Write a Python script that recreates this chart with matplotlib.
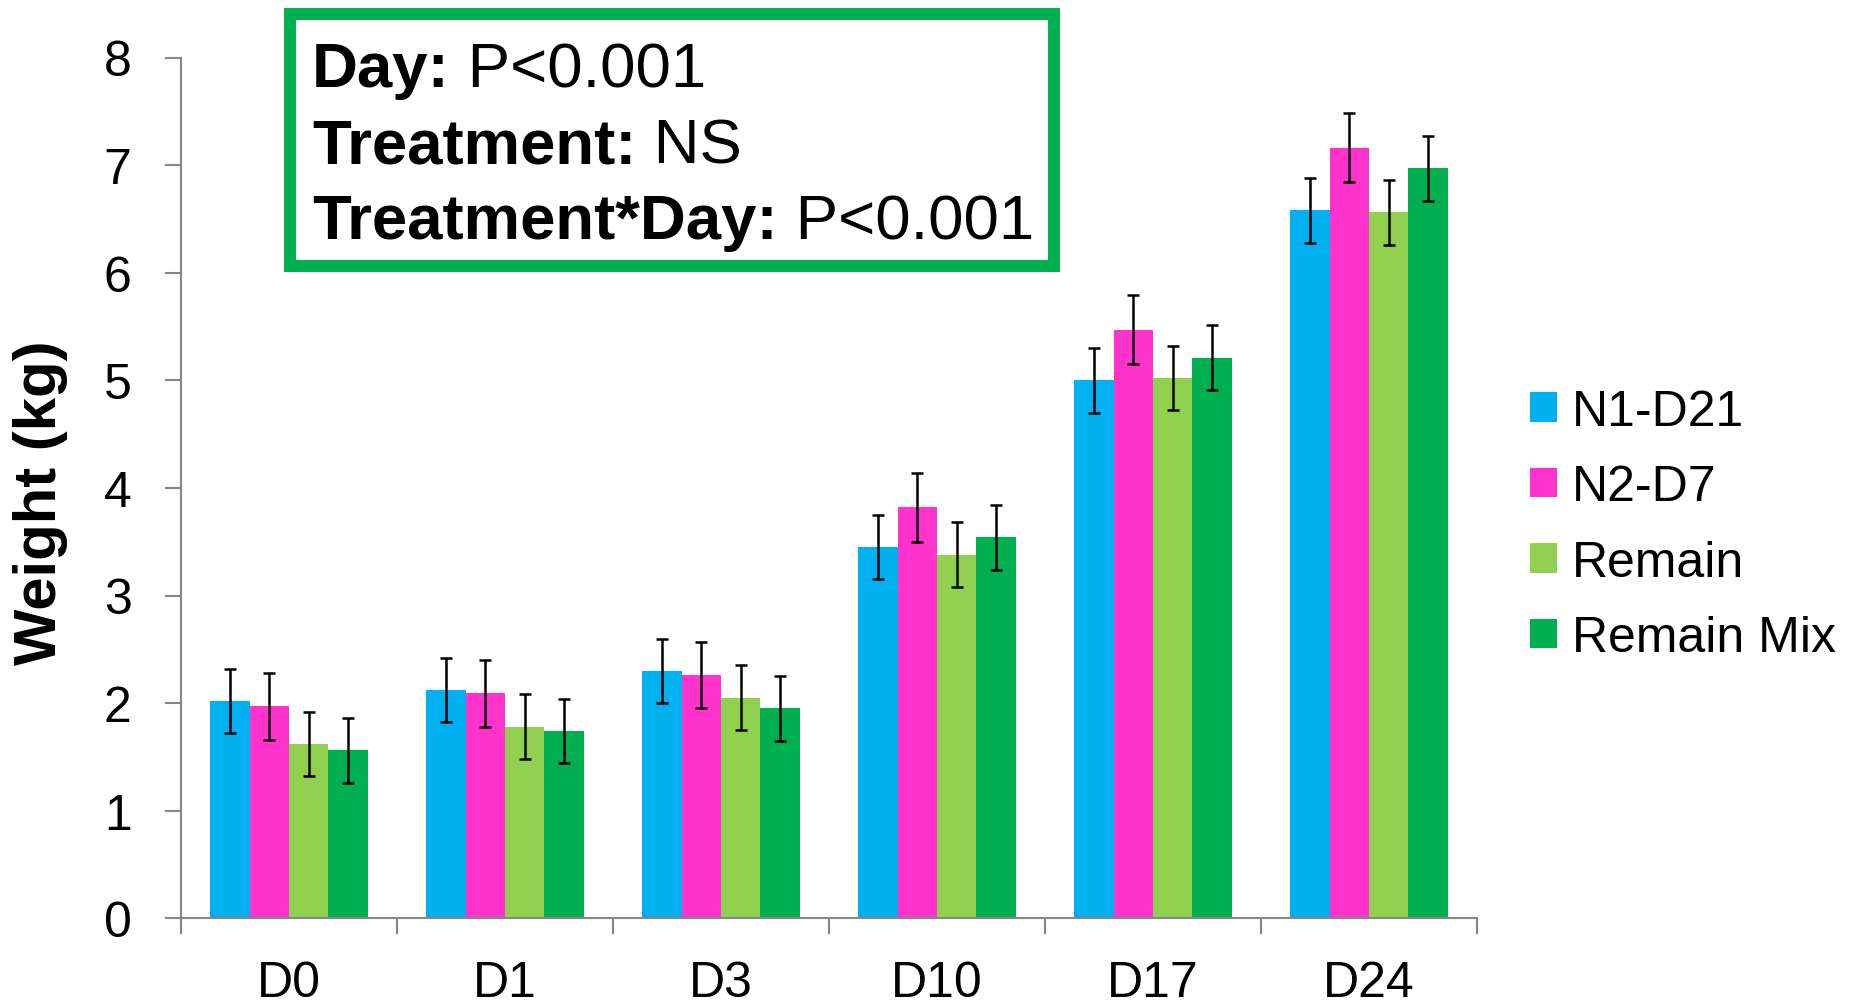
import matplotlib
matplotlib.use("Agg")
import matplotlib.pyplot as plt
from matplotlib.patches import Rectangle
import numpy as np

plt.rcParams['font.family'] = ['Liberation Sans', 'DejaVu Sans']

days = ["D0", "D1", "D3", "D10", "D17", "D24"]
series = ["N1-D21", "N2-D7", "Remain", "Remain Mix"]
colors = ["#00B0F0", "#FF33CC", "#92D050", "#00B050"]

n1_d21 = [2.02, 2.12, 2.30, 3.45, 5.00, 6.58]
n2_d7 = [1.97, 2.09, 2.26, 3.82, 5.47, 7.16]
remain = [1.62, 1.78, 2.05, 3.38, 5.02, 6.56]
remain_mix = [1.56, 1.74, 1.95, 3.54, 5.21, 6.97]

n1_d21_err = [0.30, 0.30, 0.30, 0.30, 0.30, 0.30]
n2_d7_err = [0.31, 0.31, 0.31, 0.32, 0.32, 0.32]
remain_err = [0.30, 0.30, 0.30, 0.30, 0.30, 0.30]
remain_mix_err = [0.30, 0.30, 0.30, 0.30, 0.30, 0.30]

values = [n1_d21, n2_d7, remain, remain_mix]
errors = [n1_d21_err, n2_d7_err, remain_err, remain_mix_err]

W, H = 1868, 1004
fig = plt.figure(figsize=(W / 100, H / 100), dpi=100)
ax = fig.add_axes([181 / W, (H - 919.3) / H, 1296 / W, 860.8 / H])

x = np.arange(len(days))
bw = 0.1825
for i, (vals, errs, col, name) in enumerate(zip(values, errors, colors, series)):
    ax.bar(x + (i - 1.5) * bw, vals, width=bw, color=col, label=name,
           yerr=errs, error_kw=dict(ecolor="black", elinewidth=1.8,
                                    capsize=4, capthick=1.8), zorder=2)

axis_grey = "#868686"
ax.set_xlim(-0.5, len(days) - 0.5)
ax.set_ylim(0, 8)
ax.set_yticks(range(0, 9))
ax.set_xticks(x)
ax.set_xticklabels(days)
ax.set_xticks(np.arange(-0.5, len(days)), minor=True)
ax.tick_params(axis="x", which="major", length=0, pad=30, labelsize=36)
ax.tick_params(axis="x", which="minor", length=11.5, width=1.5, color=axis_grey)
ax.tick_params(axis="y", length=11.5, width=1.5, color=axis_grey, pad=24,
               labelsize=36)
for side in ["top", "right"]:
    ax.spines[side].set_visible(False)
for side in ["left", "bottom"]:
    ax.spines[side].set_color(axis_grey)
    ax.spines[side].set_linewidth(1.5)

ax.set_ylabel("Weight (kg)", fontsize=43, fontweight="bold")
ax.yaxis.set_label_coords(-0.0875, 0.484)

leg = fig.legend(loc="center left", bbox_to_anchor=(1530 / W, 1 - 526 / H),
                 frameon=False, fontsize=36, handlelength=0.54,
                 handleheight=0.54, handletextpad=0.3, labelspacing=0.59,
                 borderpad=0, borderaxespad=0)

# statistics box
box = Rectangle((289.5 / W, 1 - 267 / H), (1054 - 289.5) / W, (267 - 15.3) / H,
                transform=fig.transFigure, fill=False, edgecolor="#00B050",
                linewidth=8.6, zorder=5)
fig.add_artist(box)

stats = [("Day:", " P<0.001"), ("Treatment:", " NS"),
         ("Treatment*Day:", " P<0.001")]
baselines = [87.3, 163.3, 239.3]
for (bold, plain), yb in zip(stats, baselines):
    t = fig.text(312 / W, 1 - yb / H, bold, fontsize=45.7, fontweight="bold",
                 va="baseline", ha="left")
    fig.canvas.draw()
    fig.text(t.get_window_extent().x1 / W, 1 - yb / H, plain, fontsize=45.7,
             va="baseline", ha="left")

fig.savefig("out.png", dpi=100, facecolor="white")
